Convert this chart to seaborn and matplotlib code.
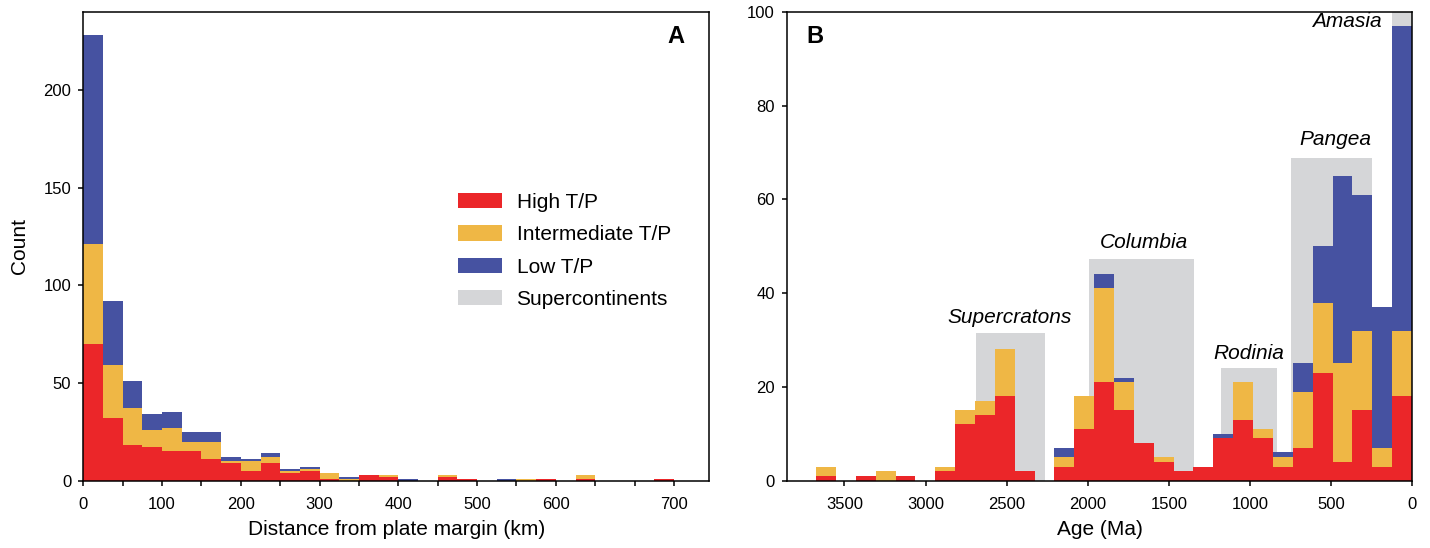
import matplotlib
matplotlib.use("Agg")
import matplotlib.pyplot as plt
import numpy as np
import pandas as pd
import seaborn as sns
from matplotlib.patches import Patch

PALETTE = {
    "High T/P": "#EB2629",
    "Intermediate T/P": "#EFB745",
    "Low T/P": "#4652A1",
}
SUPER_GRAY = "#D5D6D8"
CLASSES = ["High T/P", "Intermediate T/P", "Low T/P"]
STACK_ORDER = ["Low T/P", "Intermediate T/P", "High T/P"]  # seaborn puts last level at bottom

# ── Panel A: distance from plate margin, 25 km bins ───────────────────────────
DIST_BIN_KM = 25
dist_high = [70, 32, 18, 17, 15, 15, 11, 9, 5, 9, 4, 5, 1, 0, 3, 2, 0, 0, 2, 1, 0, 0, 0, 1, 0, 1, 0, 0, 0, 1]
dist_inter = [51, 27, 19, 9, 12, 5, 9, 1, 5, 3, 1, 1, 3, 1, 0, 1, 0, 0, 1, 0, 0, 0, 1, 0, 0, 2, 0, 0, 0, 0]
dist_low = [107, 33, 14, 8, 8, 5, 5, 2, 1, 2, 1, 1, 0, 1, 0, 0, 1, 0, 0, 0, 0, 1, 0, 0, 0, 0, 0, 0, 0, 0]
dist_ticks = [0, 50, 100, 150, 200, 250, 300, 350, 400, 450, 500, 550, 600, 650, 700, 750]
dist_ticklabels = ["0", "", "100", "", "200", "", "300", "", "400", "", "500", "", "600", "", "", "700"]

# ── Panel B: age, youngest bin first ──────────────────────────────────────────
AGE_BIN_MA = 122.5
age_high = [18, 3, 15, 4, 23, 7, 3, 9, 13, 9, 3, 2, 4, 8, 15, 21, 11, 3, 0, 2, 18, 14, 12, 2, 0, 1, 0, 1, 0, 1]
age_inter = [14, 4, 17, 21, 15, 12, 2, 2, 8, 0, 0, 0, 1, 0, 6, 20, 7, 2, 0, 0, 10, 3, 3, 1, 0, 0, 2, 0, 0, 2]
age_low = [65, 30, 29, 40, 12, 6, 1, 0, 0, 1, 0, 0, 0, 0, 1, 3, 0, 2, 0, 0, 0, 0, 0, 0, 0, 0, 0, 0, 0, 0]

sc_names = ["Supercratons", "Columbia", "Rodinia", "Pangea", "Amasia"]
sc_start = [2265, 1345, 830, 245, 0]
sc_end = [2690, 1990, 1175, 745, 125]
sc_top = [31.4, 47.4, 24.1, 68.8, 100]
sc_label_x = [2481, 1651, 1006, 474, 188]
sc_label_y = [34.9, 50.9, 27.2, 72.7, 97.9]


def to_long(high, inter, low, width):
    centers = (np.arange(len(high)) + 0.5) * width
    parts = [
        pd.DataFrame({"x": centers, "count": vals, "cls": cls})
        for cls, vals in zip(CLASSES, [high, inter, low])
    ]
    return pd.concat(parts, ignore_index=True)


sns.set_style("ticks", {
    "axes.edgecolor": "black", "xtick.color": "black", "ytick.color": "black",
    "text.color": "black", "axes.labelcolor": "black",
})
plt.rcParams["font.family"] = ["Liberation Sans", "DejaVu Sans"]
plt.rcParams["axes.linewidth"] = 1.1
plt.rcParams["xtick.major.size"] = 3.8
plt.rcParams["ytick.major.size"] = 3.8
plt.rcParams["xtick.major.width"] = 1.1
plt.rcParams["ytick.major.width"] = 1.1
plt.rcParams["xtick.major.pad"] = 8
plt.rcParams["ytick.major.pad"] = 5

fig = plt.figure(figsize=(14.3, 5.48), dpi=100)
ax_a = fig.add_axes([0.0583, 0.123, 0.4378, 0.855])
ax_b = fig.add_axes([0.5503, 0.123, 0.4371, 0.855])

# Panel A
df_a = to_long(dist_high, dist_inter, dist_low, DIST_BIN_KM)
edges_a = [i * DIST_BIN_KM for i in range(len(dist_high) + 1)]
sns.histplot(
    data=df_a, x="x", weights="count", hue="cls", hue_order=STACK_ORDER,
    multiple="stack", bins=edges_a, palette=PALETTE, alpha=1, linewidth=0,
    legend=False, ax=ax_a,
)
ax_a.set_xlim(0, 795)
ax_a.set_ylim(0, 240)
ax_a.set_xticks(dist_ticks)
ax_a.set_xticklabels(dist_ticklabels)
ax_a.set_yticks([0, 50, 100, 150, 200])
ax_a.tick_params(labelsize=12)
ax_a.set_xlabel("Distance from plate margin (km)", fontsize=15, labelpad=6)
ax_a.set_ylabel("Count", fontsize=15, labelpad=10)
ax_a.text(0.946, 0.947, "A", transform=ax_a.transAxes, fontsize=17,
          fontweight="bold", ha="center", va="center")

handles = [Patch(facecolor=PALETTE[c], edgecolor="none") for c in CLASSES]
handles.append(Patch(facecolor=SUPER_GRAY, edgecolor="none"))
ax_a.legend(
    handles, CLASSES + ["Supercontinents"], loc="center left",
    bbox_to_anchor=(0.599, 0.49), frameon=False, fontsize=15,
    handlelength=2.07, handleheight=0.75, handletextpad=0.72, labelspacing=0.64,
    borderpad=0, borderaxespad=0,
)

# Panel B
ax_b.bar(sc_start, np.array(sc_top), width=np.array(sc_end) - np.array(sc_start),
         align="edge", color=SUPER_GRAY, linewidth=0, zorder=0)
df_b = to_long(age_high, age_inter, age_low, AGE_BIN_MA)
edges_b = [i * AGE_BIN_MA for i in range(len(age_high) + 1)]
sns.histplot(
    data=df_b, x="x", weights="count", hue="cls", hue_order=STACK_ORDER,
    multiple="stack", bins=edges_b, palette=PALETTE, alpha=1, linewidth=0,
    legend=False, ax=ax_b, zorder=2,
)
for name, lx, ly in zip(sc_names, sc_label_x, sc_label_y):
    ha = "right" if name == "Amasia" else "center"
    ax_b.text(lx, ly, name, fontsize=15, style="italic", ha=ha, va="center")
ax_b.set_xlim(3855, 0)
ax_b.set_ylim(0, 100)
ax_b.set_xticks([3500, 3000, 2500, 2000, 1500, 1000, 500, 0])
ax_b.set_yticks([0, 20, 40, 60, 80, 100])
ax_b.tick_params(labelsize=12)
ax_b.set_xlabel("Age (Ma)", fontsize=15, labelpad=6)
ax_b.set_ylabel("")
ax_b.text(0.045, 0.947, "B", transform=ax_b.transAxes, fontsize=17,
          fontweight="bold", ha="center", va="center")

fig.savefig("out.png", dpi=100)
